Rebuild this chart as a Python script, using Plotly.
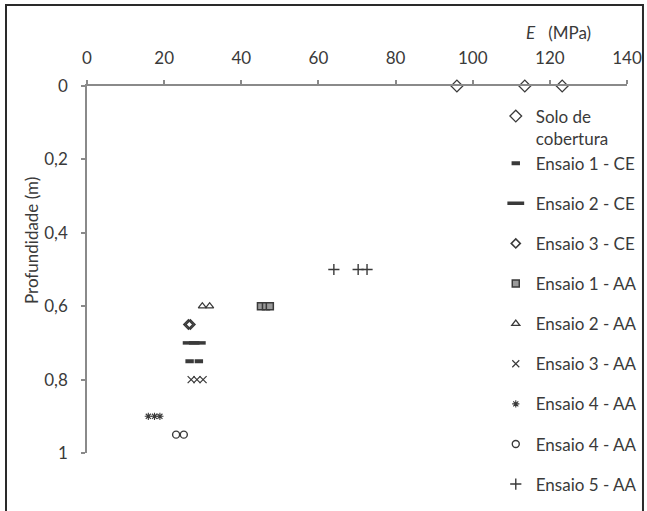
import plotly.graph_objects as go

# Módulo de deformabilidade E (MPa) versus profundidade (m)
solo_E = [95.9, 113.5, 123.2]
solo_z = [0.0, 0.0, 0.0]

ce1_E = [26.6, 29.0]
ce1_z = [0.75, 0.75]

ce2_E = [27.0, 28.6]
ce2_z = [0.70, 0.70]

ce3_E = [26.3, 26.8]
ce3_z = [0.65, 0.65]

aa1_E = [45.1, 46.4, 47.4]
aa1_z = [0.60, 0.60, 0.60]

aa2_E = [29.9, 31.8]
aa2_z = [0.60, 0.60]

aa3_E = [27.0, 28.5, 30.1]
aa3_z = [0.80, 0.80, 0.80]

aa4_E = [15.9, 17.5, 18.9]
aa4_z = [0.90, 0.90, 0.90]

aa4b_E = [23.1, 25.1]
aa4b_z = [0.95, 0.95]

aa5_E = [64.0, 70.3, 72.6]
aa5_z = [0.50, 0.50, 0.50]

x_ticks = [0, 20, 40, 60, 80, 100, 120, 140]
y_ticks = [0, 0.2, 0.4, 0.6, 0.8, 1.0]
y_ticktext = ["0", "0,2", "0,4", "0,6", "0,8", "1"]

INK = "#3a3a3a"
AXIS = "#8a8a8a"
FONT = "Lato"


def outline(symbol, size, width):
    return dict(symbol=symbol, size=size, color=INK, line=dict(width=width, color=INK))


series = [
    ("Solo de<br>cobertura", solo_E, solo_z, outline("diamond-open", 9, 1.3), "g0"),
    ("Ensaio 1 - CE", ce1_E, ce1_z, outline("line-ew-open", 6, 4), "g0"),
    ("Ensaio 2 - CE", ce2_E, ce2_z, outline("line-ew-open", 12, 3.5), "g2"),
    ("Ensaio 3 - CE", ce3_E, ce3_z, outline("diamond-open", 7, 1.6), "g3"),
    ("Ensaio 1 - AA", aa1_E, aa1_z,
     dict(symbol="square", size=7, color="#9a9a9a", line=dict(width=1.5, color=INK)), "g4"),
    ("Ensaio 2 - AA", aa2_E, aa2_z, outline("triangle-up-open", 7, 1.3), "g5"),
    ("Ensaio 3 - AA", aa3_E, aa3_z, outline("x-thin-open", 7, 1.2), "g6"),
    ("Ensaio 4 - AA", aa4_E, aa4_z, outline("asterisk-open", 6, 1.1), "g7"),
    ("Ensaio 4 - AA", aa4b_E, aa4b_z, outline("circle-open", 7, 1.4), "g8"),
    ("Ensaio 5 - AA", aa5_E, aa5_z, outline("cross-thin-open", 8, 1.4), "g9"),
]

fig = go.Figure()
for name, xs, zs, mk, grp in series:
    fig.add_trace(go.Scatter(
        x=xs, y=zs, mode="markers", name=name, legendgroup=grp,
        marker=mk, cliponaxis=False,
    ))

fig.update_layout(
    width=647, height=511,
    margin=dict(l=87, r=20, t=86, b=58, autoexpand=False),
    paper_bgcolor="white", plot_bgcolor="white",
    font=dict(family=FONT, size=16, color=INK),
    showlegend=True,
    legend=dict(
        x=0.757, y=0.966, xanchor="left", yanchor="top",
        bgcolor="rgba(0,0,0,0)", font=dict(size=17, color=INK),
        tracegroupgap=15, valign="top", itemwidth=30, maxheight=440,
    ),
    xaxis=dict(
        range=[0, 140], side="top", tickvals=x_ticks,
        showgrid=False, zeroline=False, showline=True,
        linecolor=AXIS, linewidth=1.5,
        ticks="outside", ticklen=4, tickcolor=AXIS, tickwidth=1.5,
        ticklabelstandoff=9, tickfont=dict(size=17, color=INK),
    ),
    yaxis=dict(
        range=[1, 0], tickvals=y_ticks, ticktext=y_ticktext,
        showgrid=False, zeroline=False, showline=True,
        linecolor=AXIS, linewidth=1.5,
        ticks="outside", ticklen=4, tickcolor=AXIS, tickwidth=1.5,
        ticklabelstandoff=10, tickfont=dict(size=17, color=INK),
    ),
    annotations=[
        dict(text="<i>E</i>   (MPa)", xref="paper", yref="paper",
             x=0.81, y=1.145, xanchor="left", yanchor="middle",
             showarrow=False, font=dict(size=17, color=INK)),
        dict(text="Profundidade (m)", xref="paper", yref="paper",
             x=-0.104, y=0.58, xanchor="center", yanchor="middle", textangle=-90,
             showarrow=False, font=dict(size=17, color=INK)),
    ],
    shapes=[
        dict(type="rect", xref="paper", yref="paper",
             x0=-0.15, x1=1.0296, y0=-0.4, y1=1.2207,
             line=dict(color="#2a2a2a", width=2), fillcolor="rgba(0,0,0,0)", layer="below"),
    ],
)

fig.write_html("out.html")
